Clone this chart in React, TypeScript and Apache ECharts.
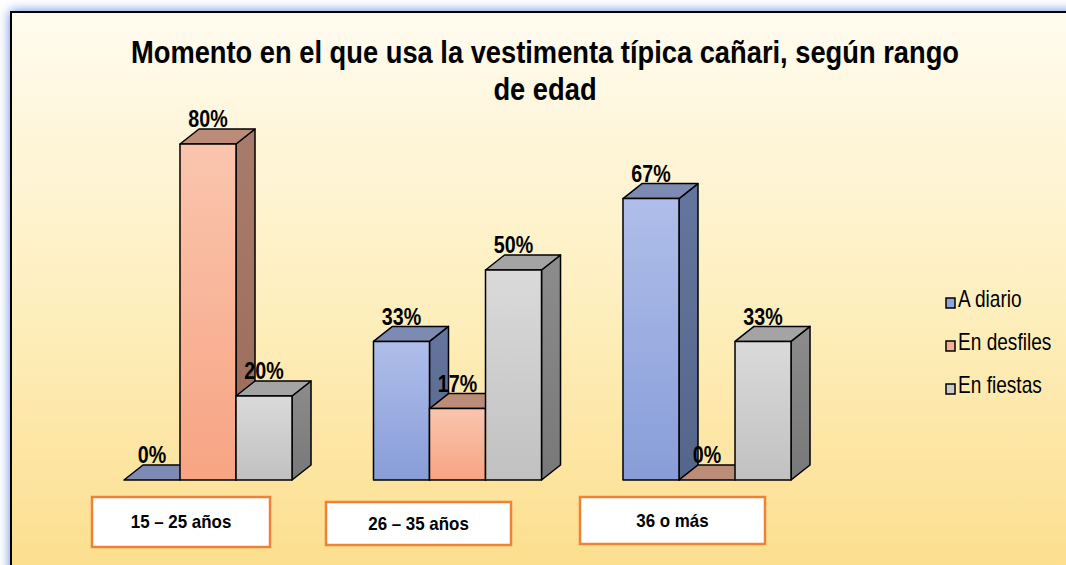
import React, { useEffect, useRef } from "react";
import * as echarts from "echarts";

const categories = ["15 – 25 años", "26 – 35 años", "36 o más"];
const seriesNames = ["A diario", "En desfiles", "En fiestas"];
const aDiario = [0, 33, 67];
const enDesfiles = [80, 17, 0];
const enFiestas = [20, 50, 33];
const seriesValues = [aDiario, enDesfiles, enFiestas];
const titleLines = ["Momento en el que usa la vestimenta típica cañari, según rango", "de edad"];

const SANS = "'Liberation Sans', Arial, sans-serif";
const NARROW_SCALE = 0.82;

const palettes = [
  { front: ["#afbeea", "#889dd8"], side: ["#65769e", "#55658a"], top: "#7d8bb3", legend: "#8fa3dc" },
  { front: ["#fac5ae", "#f7a483"], side: ["#a87c6c", "#9a6a58"], top: "#bb8c78", legend: "#f7b096" },
  { front: ["#dadada", "#c1c1c1"], side: ["#8c8c8c", "#787878"], top: "#a4a4a4", legend: "#cccccc" },
];

const catBoxes = [
  { x: 92, y: 497, w: 178, h: 50 },
  { x: 326, y: 502, w: 185, h: 43 },
  { x: 580, y: 497, w: 185, h: 47 },
];

function makeRenderItem(k: number) {
  return (params: any, api: any) => {
    const ci = api.value(0);
    const v = api.value(1);
    const band = api.size([1, 0])[0];
    const bw = band * 0.2245;
    const dx = 19;
    const dy = 15;
    const base = api.coord([ci, 0]);
    const topPt = api.coord([ci, v]);
    const cx = base[0];
    const by = base[1];
    const ty = topPt[1];
    const x0 = cx - 1.5 * bw + k * bw;
    const p = palettes[k];
    const stroke = { stroke: "#000", lineWidth: 1.5, lineJoin: "round" };
    const children: any[] = [];
    if (v > 0) {
      children.push({
        type: "polygon",
        shape: { points: [[x0 + bw, by], [x0 + bw, ty], [x0 + bw + dx, ty - dy], [x0 + bw + dx, by - dy]] },
        style: {
          fill: new echarts.graphic.LinearGradient(0, 0, 0, 1, [
            { offset: 0, color: p.side[0] },
            { offset: 1, color: p.side[1] },
          ]),
          ...stroke,
        },
      });
    }
    children.push({
      type: "polygon",
      shape: { points: [[x0, ty], [x0 + bw, ty], [x0 + bw + dx, ty - dy], [x0 + dx, ty - dy]] },
      style: { fill: p.top, ...stroke },
    });
    if (v > 0) {
      children.push({
        type: "rect",
        shape: { x: x0, y: ty, width: bw, height: by - ty },
        style: {
          fill: new echarts.graphic.LinearGradient(0, 0, 0, 1, [
            { offset: 0, color: p.front[0] },
            { offset: 1, color: p.front[1] },
          ]),
          ...stroke,
        },
      });
    }
    children.push({
      type: "text",
      x: x0 + bw / 2,
      y: ty - 25,
      scaleX: NARROW_SCALE,
      style: {
        text: v + "%",
        x: 0,
        y: 0,
        align: "center",
        verticalAlign: "middle",
        fill: "#000",
        fontSize: 24,
        fontWeight: "bold",
        fontFamily: SANS,
      },
    });
    return { type: "group", children };
  };
}

export default function App() {
  const ref = useRef<HTMLDivElement>(null);
  useEffect(() => {
    const chart = echarts.init(ref.current!, null, { renderer: "svg" });
    const graphics: any[] = [
      { type: "rect", shape: { x: 0, y: 0, width: 1066, height: 565 }, style: { fill: "#ffffff" }, z: -20, silent: true },
      {
        type: "rect",
        shape: { x: 11, y: 12, width: 1100, height: 600 },
        style: {
          fill: new echarts.graphic.LinearGradient(0, 0, 0, 1, [
            { offset: 0, color: "#fffbef" },
            { offset: 0.45, color: "#fef0c2" },
            { offset: 1, color: "#fcdc86" },
          ]),
          stroke: "#000",
          lineWidth: 2,
          shadowBlur: 12,
          shadowColor: "#5f86e0",
        },
        z: -10,
        silent: true,
      },
    ];
    titleLines.forEach((t, i) => {
      graphics.push({
        type: "text",
        x: 545,
        y: 52 + i * 37,
        scaleX: 0.853,
        style: {
          text: t,
          align: "center",
          verticalAlign: "middle",
          fill: "#000",
          fontSize: 32,
          fontWeight: "bold",
          fontFamily: SANS,
        },
        z: 10,
      });
    });
    seriesNames.forEach((n, i) => {
      const cy = 303 + i * 43;
      graphics.push({
        type: "rect",
        shape: { x: 946, y: cy - 5, width: 9, height: 10 },
        style: { fill: palettes[i].legend, stroke: "#000", lineWidth: 1.5 },
        z: 10,
      });
      graphics.push({
        type: "text",
        x: 958,
        y: cy - 4.5,
        scaleX: 0.83,
        style: {
          text: n,
          align: "left",
          verticalAlign: "middle",
          fill: "#000",
          fontSize: 23,
          fontFamily: SANS,
        },
        z: 10,
      });
    });
    categories.forEach((c, i) => {
      const b = catBoxes[i];
      graphics.push({
        type: "rect",
        shape: { x: b.x, y: b.y, width: b.w, height: b.h },
        style: { fill: "#ffffff", stroke: "#ee8236", lineWidth: 2.5 },
        z: 10,
      });
      graphics.push({
        type: "text",
        x: b.x + b.w / 2,
        y: b.y + b.h / 2,
        scaleX: 0.94,
        style: {
          text: c,
          align: "center",
          verticalAlign: "middle",
          fill: "#000",
          fontSize: 18,
          fontWeight: "bold",
          fontFamily: SANS,
        },
        z: 11,
      });
    });

    chart.setOption({
      animation: false,
      grid: { left: 83.25, width: 748.5, top: 60, height: 420 },
      xAxis: { type: "category", data: categories, show: false },
      yAxis: { type: "value", min: 0, max: 100, show: false },
      graphic: graphics,
      series: seriesNames.map((n, k) => ({
        type: "custom",
        name: n,
        renderItem: makeRenderItem(k),
        itemStyle: { color: palettes[k].legend },
        encode: { x: 0, y: 1 },
        data: seriesValues[k].map((v, i) => [i, v]),
        z: 2,
      })),
    });
    return () => chart.dispose();
  }, []);
  return <div ref={ref} style={{ position: "absolute", left: 0, top: 0, width: 1066, height: 565 }} />;
}
